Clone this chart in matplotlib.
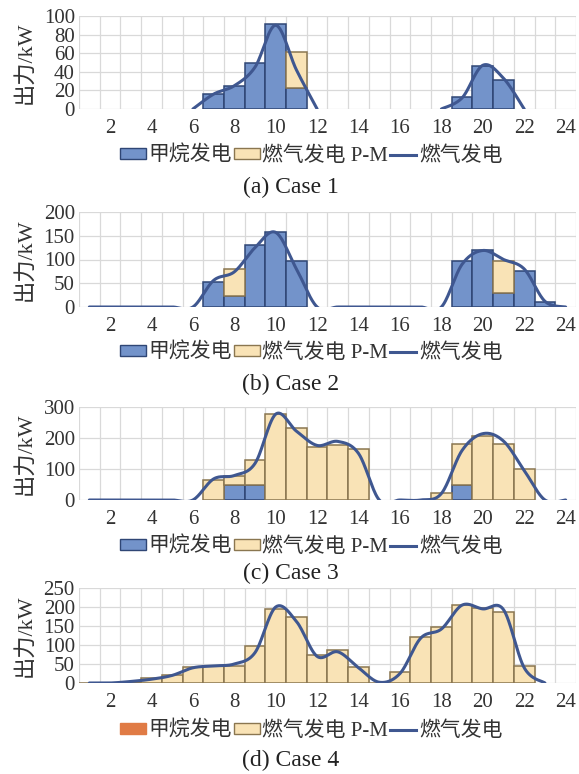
import numpy as np
import matplotlib
matplotlib.use("Agg")
import matplotlib.pyplot as plt
from matplotlib.patches import Patch
from matplotlib.lines import Line2D

nan = np.nan
hours = list(range(1, 25))
xtick_labels = [str(h) for h in range(2, 25, 2)]

# Case 1
methane1 = [nan]*6 + [16, 25, 50, 91, 23] + [nan]*7 + [13, 46, 31] + [nan]*3
pm1      = [nan]*10 + [38] + [nan]*13
gas1     = [nan]*5 + [0, 16, 25, 45, 90, 42, 0] + [nan]*5 + [0, 12, 47, 33, 0] + [nan]*2

# Case 2
methane2 = [0]*6 + [53, 24, 131, 157, 96] + [0]*7 + [96, 121, 30, 76, 11, 0]
pm2      = [0]*7 + [55] + [0]*12 + [66] + [0]*3
gas2     = [0]*6 + [56, 74, 125, 157, 80] + [0]*7 + [90, 119, 100, 80, 12, 0]

# Case 3
methane3 = [0]*7 + [47, 47] + [0]*9 + [50] + [0]*5
pm3      = [0]*6 + [66, 32, 81, 277, 232, 172, 178, 165] + [0]*3 + [23, 131, 208, 182, 100, 0, 0]
gas3     = [0]*6 + [68, 79, 118, 277, 222, 176, 189, 150] + [0]*3 + [21, 160, 214, 190, 95, 0, 0]

# Case 4
methane4 = [0]*24
pm4      = [0, 0, 3, 12, 22, 42, 44, 46, 97, 195, 175, 73, 86, 42, 0, 28, 120, 148, 206, 197, 186, 44, nan, nan]
gas4     = [0, 0, 4, 10, 20, 40, 45, 50, 80, 200, 162, 70, 82, 40, 2, 25, 118, 142, 205, 195, 193, 40, 0, nan]

cases = [
    dict(m=methane1, p=pm1, g=gas1, ymax=100, step=20, title="(a) Case 1", mcol="#7393CA"),
    dict(m=methane2, p=pm2, g=gas2, ymax=200, step=50, title="(b) Case 2", mcol="#7393CA"),
    dict(m=methane3, p=pm3, g=gas3, ymax=300, step=100, title="(c) Case 3", mcol="#7393CA"),
    dict(m=methane4, p=pm4, g=gas4, ymax=250, step=50, title="(d) Case 4", mcol="#E07B45"),
]

BLUE = "#7393CA"
BLUE_EDGE = "#2F4675"
YEL = "#F9E3B6"
YEL_EDGE = "#8A7650"
LINE = "#3F5790"
GRID = "#D9D9D9"
TXT = "#333333"

SERIF = ["Liberation Serif", "Noto Sans CJK SC"]
plt.rcParams["font.family"] = SERIF


def smooth_segments(x, y):
    """Excel-like smoothed line (Catmull-Rom Bezier) for each contiguous run."""
    x = np.asarray(x, float)
    y = np.asarray(y, float)
    ok = ~np.isnan(y)
    segs = []
    i = 0
    n = len(y)
    while i < n:
        if not ok[i]:
            i += 1
            continue
        j = i
        while j + 1 < n and ok[j + 1]:
            j += 1
        px, py = x[i:j + 1], y[i:j + 1]
        if len(px) == 1:
            segs.append((px, py))
        else:
            P = np.column_stack([px, py])
            Pe = np.vstack([P[0], P, P[-1]])
            out = []
            t = np.linspace(0, 1, 30)[:, None]
            for k in range(len(P) - 1):
                p0, p1, p2, p3 = Pe[k], Pe[k + 1], Pe[k + 2], Pe[k + 3]
                c1 = p1 + (p2 - p0) / 6.0
                c2 = p2 - (p3 - p1) / 6.0
                b = ((1 - t) ** 3) * p1 + 3 * ((1 - t) ** 2) * t * c1 + 3 * (1 - t) * t ** 2 * c2 + t ** 3 * p2
                out.append(b if k == 0 else b[1:])
            out = np.vstack(out)
            segs.append((out[:, 0], out[:, 1]))
        i = j + 1
    return segs


fig = plt.figure(figsize=(5.79, 7.74), dpi=100)

tops = [16, 212, 407, 588]
bots = [109, 307, 500, 683]
leg_y = [156, 353, 547, 731]
title_y = [187, 384, 573, 760]
L, R = 79, 576
W, H = 579.0, 774.0

for ci, c in enumerate(cases):
    ax = fig.add_axes([L / W, 1 - bots[ci] / H, (R - L) / W, (bots[ci] - tops[ci]) / H])
    x = np.array(hours, float)
    m = np.array(c["m"], float)
    p = np.array(c["p"], float)
    m_draw = np.where(m > 0, m, nan)
    p_draw = np.where(p > 0, p, nan)
    base = np.nan_to_num(m)
    if ci == 3:
        p_draw = np.where(p >= 0, p, nan)
    ax.bar(x, m_draw, width=1.0, color=BLUE, edgecolor=BLUE_EDGE, linewidth=1.1, zorder=3)
    ax.bar(x, p_draw, width=1.0, bottom=base, color=YEL, edgecolor=YEL_EDGE,
           linewidth=1.1, zorder=3)
    for sx, sy in smooth_segments(x, c["g"]):
        ax.plot(sx, sy, color=LINE, lw=2.2, zorder=4, solid_capstyle="round")

    ax.set_xlim(0.5, 24.5)
    ax.set_ylim(0, c["ymax"])
    ax.set_yticks(np.arange(0, c["ymax"] + 1, c["step"]))
    ax.set_xticks(range(2, 25, 2))
    ax.set_xticklabels(xtick_labels)
    for b in np.arange(0.5, 25, 1.0):
        ax.axvline(b, color=GRID, lw=0.9, zorder=1)
    ax.yaxis.grid(True, color=GRID, lw=0.9, zorder=1)
    ax.set_axisbelow(True)
    for s in ax.spines.values():
        s.set_visible(False)
    ax.tick_params(length=0, labelsize=15, labelcolor=TXT, pad=3)
    ax.tick_params(axis="x", pad=7)
    ax.set_ylabel("出力/kW", fontsize=16, color=TXT)
    ax.yaxis.set_label_coords(-0.088, 0.5)

    handles = [
        Patch(facecolor=c["mcol"], edgecolor=BLUE_EDGE if ci < 3 else c["mcol"], linewidth=1.0),
        Patch(facecolor=YEL, edgecolor=YEL_EDGE, linewidth=1.0),
        Line2D([0], [0], color=LINE, lw=2.2),
    ]
    labels = ["甲烷发电", "燃气发电 P-M", "燃气发电"]
    fig.legend(handles, labels, loc="center", bbox_to_anchor=(311 / W, 1 - leg_y[ci] / H),
               ncol=3, frameon=False, fontsize=15, handlelength=1.25, handleheight=0.45,
               handletextpad=0.12, columnspacing=0.1, borderpad=0, labelcolor=TXT)
    fig.text(291 / W, 1 - title_y[ci] / H, c["title"], ha="center", va="center",
             fontsize=17, color="#222222")

fig.savefig("out.png", dpi=100)
